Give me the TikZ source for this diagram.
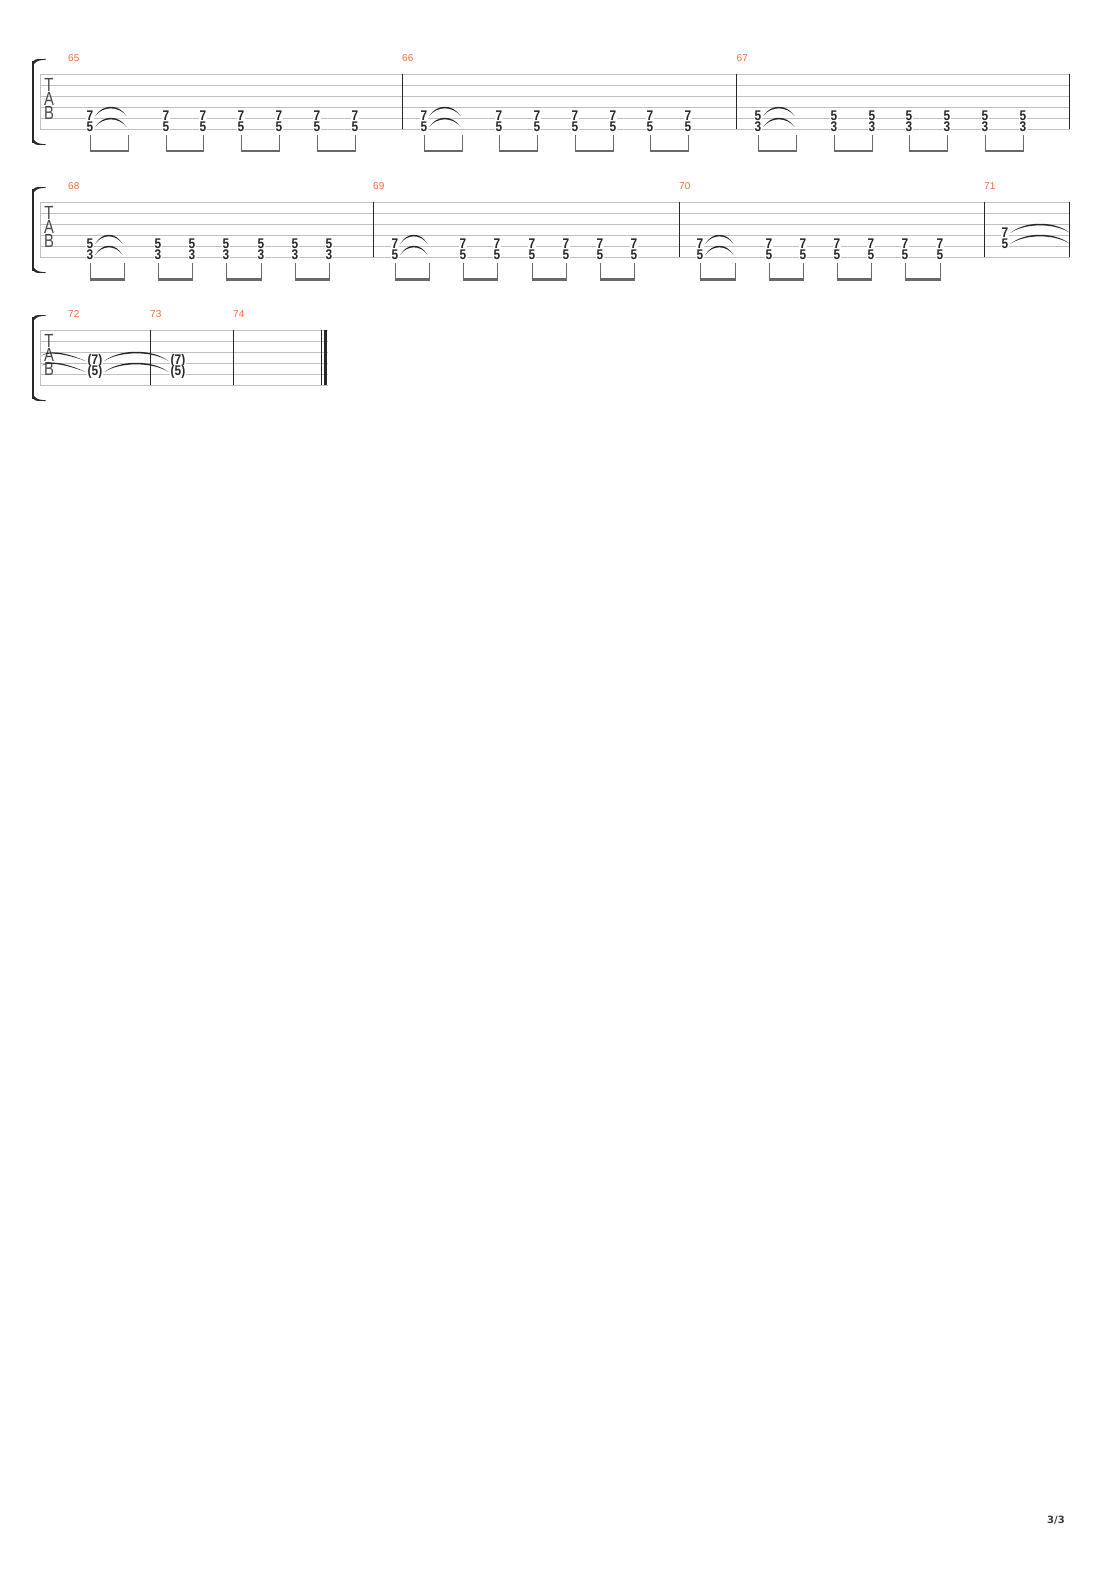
\documentclass[tikz,border=0pt]{standalone}
\usepackage{fontspec}
\setmainfont{Liberation Sans}
\newfontfamily\fretfont{Liberation Sans}[FakeStretch=0.85]
\newfontfamily\cleffont{Liberation Sans}[FakeStretch=0.78]
\newfontfamily\pagefont{DejaVu Sans}
\usetikzlibrary{calc}
\definecolor{barnum}{RGB}{240,108,62}
\definecolor{staffgray}{RGB}{192,192,192}
\definecolor{beamgray}{RGB}{105,105,105}
\definecolor{ink}{RGB}{40,40,40}
\tikzset{
  staffline/.style={staffgray,line width=0.9pt},
  barline/.style={ink,line width=1pt},
  fret/.style={fill=white,inner sep=0.5pt,text=ink,font=\fretfont\bfseries\fontsize{14}{14}\selectfont},
  clef/.style={inner sep=0pt,text=ink!85,font=\cleffont\fontsize{19}{19}\selectfont},
  barno/.style={anchor=west,inner sep=0pt,text=barnum,font=\fontsize{10}{10}\selectfont},
  pageno/.style={inner sep=0pt,text=ink!90,font=\pagefont\bfseries\fontsize{10}{10}\selectfont},
  stem/.style={beamgray,line width=0.9pt},
  beam/.style={beamgray,line width=2.5pt,shorten <=-0.45pt,shorten >=-0.45pt},
  tiefill/.style={ink,draw=none},
  bracket/.style={ink,line width=2pt},
}
\newcommand\chord[5]{% name, x, y of upper fret, upper, lower
  \node[fret] (#1-t) at (#2,#3) {#4};
  \node[fret] (#1-b) at (#2,#3+11) {#5};}
\newcommand\hold[3]{% tied-to chord, not printed
  \coordinate (#1-t) at (#2,#3);
  \coordinate (#1-b) at (#2,#3+11);}
\newcommand\tienote[3]{% from node, to point, height
  \path ([xshift=1.2pt]#1.east) coordinate (ts) ([xshift=-1.5pt]#2) coordinate (te);
  \fill[tiefill] (ts) .. controls ($(ts)!0.25!(te)+(0,-1.45*#3)$) and ($(ts)!0.75!(te)+(0,-1.45*#3)$) .. (te)
    .. controls ($(ts)!0.75!(te)+(0,-1.2*#3)$) and ($(ts)!0.25!(te)+(0,-1.2*#3)$) .. (ts) -- cycle;}
\newcommand\tiein[2]{% tie coming from the system before
  \path (#1) coordinate (ts) ([xshift=-1.5pt]#2.west) coordinate (te);
  \fill[tiefill] (ts) .. controls ($(ts)!0.15!(te)+(0,-6)$) and ($(ts)!0.5!(te)+(0,-7)$) .. (te)
    .. controls ($(ts)!0.5!(te)+(0,-5.3)$) and ($(ts)!0.15!(te)+(0,-4.3)$) .. (ts) -- cycle;}
\newcommand\sysbrace[1]{% bracket and TAB clef, #1 = top line
  \draw[bracket] (33,#1-13) -- (33,#1+69);
  \fill[ink] (32,#1-12) .. controls (35,#1-15) .. (45.5,#1-15) -- (45.5,#1-14.2)
    .. controls (38,#1-13.6) .. (34,#1-10) -- cycle;
  \fill[ink] (32,#1+68) .. controls (35,#1+71) .. (45.5,#1+71) -- (45.5,#1+70.2)
    .. controls (38,#1+69.6) .. (34,#1+66) -- cycle;
  \node[clef] (T#1) at (49,#1+11) {T};
  \node[clef] (A#1) at (49,#1+25) {A};
  \node[clef] (B#1) at (49,#1+38.5) {B};}

\begin{document}
\begin{tikzpicture}[x=1pt,y=-1pt]
\useasboundingbox (0,0) rectangle (1110,1570);
\fill[white] (0,0) rectangle (1110,1570);

% system 1: bars 65-67
\foreach \k in {0,...,5}
  \draw[staffline] (40,74+11*\k) -- (1070,74+11*\k);
\draw[staffline] (40,74) -- (40,129);
\foreach \x in {402,736.5,1069.5}
  \draw[barline] (\x,74) -- (\x,129);
\sysbrace{74}
\node[barno] (no65) at (68,58) {65};
\node[barno] (no66) at (402,58) {66};
\node[barno] (no67) at (736.5,58) {67};
\foreach \nm/\x in {65a/90,65c/166,65d/203,65e/241,65f/279,65g/317,65h/355,
                    66a/424,66c/499,66d/537,66e/575,66f/613,66g/650,66h/688}
  {\chord{\nm}{\x}{116}{7}{5}}
\foreach \nm/\x in {67a/758,67c/834,67d/872,67e/909,67f/947,67g/985,67h/1023}
  {\chord{\nm}{\x}{116}{5}{3}}
\hold{65b}{128}{116}
\hold{66b}{462}{116}
\hold{67b}{796}{116}
\coordinate (stemA) at (0,135);
\coordinate (beamA) at (0,151.2);
\foreach \m in {65,66,67} {
  \tienote{\m a-t}{\m b-t}{8.5}
  \tienote{\m a-b}{\m b-b}{8.5}
  \foreach \i in {a,...,h}
    \draw[stem] (\m\i-b |- stemA) -- ([yshift=-1.2pt]\m\i-b |- beamA);
  \foreach \a/\b in {a/b,c/d,e/f,g/h}
    \draw[beam] (\m\a-b |- beamA) -- (\m\b-b |- beamA);
}

% system 2: bars 68-71
\foreach \k in {0,...,5}
  \draw[staffline] (40,202+11*\k) -- (1070,202+11*\k);
\draw[staffline] (40,202) -- (40,257);
\foreach \x in {373,679,984,1069.5}
  \draw[barline] (\x,202) -- (\x,257);
\sysbrace{202}
\node[barno] (no68) at (68,186) {68};
\node[barno] (no69) at (373,186) {69};
\node[barno] (no70) at (679,186) {70};
\node[barno] (no71) at (984,186) {71};
\foreach \nm/\x in {68a/90,68c/158,68d/192,68e/226,68f/261,68g/295,68h/329}
  {\chord{\nm}{\x}{244}{5}{3}}
\foreach \nm/\x in {69a/395,69c/463,69d/497,69e/532,69f/566,69g/600,69h/634,
                    70a/700,70c/769,70d/803,70e/837,70f/871,70g/905,70h/940}
  {\chord{\nm}{\x}{244}{7}{5}}
\hold{68b}{124}{244}
\hold{69b}{429}{244}
\hold{70b}{735}{244}
\coordinate (stemB) at (0,263);
\coordinate (beamB) at (0,279.5);
\foreach \m in {68,69,70} {
  \tienote{\m a-t}{\m b-t}{8.5}
  \tienote{\m a-b}{\m b-b}{8.5}
  \foreach \i in {a,...,h}
    \draw[stem] (\m\i-b |- stemB) -- ([yshift=-1.2pt]\m\i-b |- beamB);
  \foreach \a/\b in {a/b,c/d,e/f,g/h}
    \draw[beam] (\m\a-b |- beamB) -- (\m\b-b |- beamB);
}
\chord{71a}{1005}{233}{7}{5}
\hold{71z}{1071.5}{233}
\tienote{71a-t}{71z-t}{8.5}
\tienote{71a-b}{71z-b}{8.5}

% system 3: bars 72-74
\foreach \k in {0,...,5}
  \draw[staffline] (40,330+11*\k) -- (328,330+11*\k);
\draw[staffline] (40,330) -- (40,385);
\foreach \x in {150,233,321}
  \draw[barline] (\x,330) -- (\x,385);
\draw[ink,line width=3pt] (325.5,330) -- (325.5,385);
\sysbrace{330}
\node[barno] (no72) at (68,314) {72};
\node[barno] (no73) at (150,314) {73};
\node[barno] (no74) at (233,314) {74};
\chord{72a}{95}{361}{(7)}{(5)}
\chord{73a}{178}{361}{(7)}{(5)}
\coordinate (72in-t) at (41.7,355.5);
\coordinate (72in-b) at (41.7,365.5);
\tiein{72in-t}{72a-t}
\tiein{72in-b}{72a-b}
\tienote{72a-t}{73a-t.west}{8.5}
\tienote{72a-b}{73a-b.west}{8.5}

\node[pageno] (page) at (1056,1520) {3/3};
\end{tikzpicture}
\end{document}
